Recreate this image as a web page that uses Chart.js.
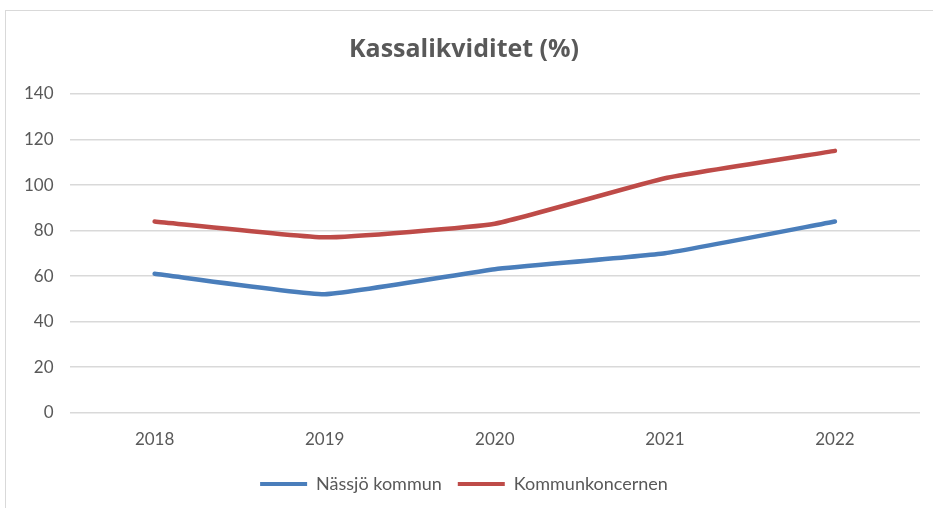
<!DOCTYPE html>
<html>
<head>
<meta charset="utf-8">
<script src="https://cdn.jsdelivr.net/npm/chart.js@4.4.1/dist/chart.umd.min.js"></script>
<style>
  html, body { margin: 0; padding: 0; background: #fff; }
  #wrap { position: relative; width: 933px; height: 508px; overflow: hidden; }
  #frame { position: absolute; left: 5px; top: 10px; width: 1000px; height: 600px; border: 1px solid #d9d9d9; }
  #myChart { position: absolute; left: 0; top: 0; }
</style>
</head>
<body>
<div id="wrap">
  <div id="frame"></div>
  <canvas id="myChart" width="933" height="508"></canvas>
</div>
<script>
// values
var years = ["2018", "2019", "2020", "2021", "2022"];
var nassjo = [61, 52, 63, 70, 84];
var koncern = [84, 77, 83, 103, 115];
var yTicks = [0, 20, 40, 60, 80, 100, 120, 140];

var blue = 'rgb(74, 126, 187)';
var red = 'rgb(190, 75, 72)';
var textColor = '#595959';

var ctx = document.getElementById("myChart").getContext('2d');
var myChart = new Chart(ctx, {
  type: 'line',
  data: {
    labels: years,
    datasets: [{
      label: 'Nässjö kommun',
      data: nassjo,
      borderColor: blue,
      backgroundColor: blue,
      borderWidth: 4.5,
      pointRadius: 0,
      tension: 0.12,
      borderCapStyle: 'round'
    }, {
      label: 'Kommunkoncernen',
      data: koncern,
      borderColor: red,
      backgroundColor: red,
      borderWidth: 4.5,
      pointRadius: 0,
      tension: 0.12,
      borderCapStyle: 'round'
    }]
  },
  options: {
    responsive: false,
    animation: false,
    layout: { padding: { left: 8, right: 13, top: 35, bottom: 5 } },
    plugins: {
      title: {
        display: true,
        text: 'Kassalikviditet (%)',
        color: textColor,
        font: { family: 'Open Sans', size: 25, weight: 'bold' },
        padding: { top: 0, bottom: 29 }
      },
      legend: {
        position: 'bottom',
        labels: {
          color: textColor,
          font: { family: 'Lato', size: 18 },
          boxWidth: 47,
          boxHeight: 4,
          padding: 16,
          generateLabels: function(chart) {
            return Chart.defaults.plugins.legend.labels.generateLabels(chart).map(function(l) {
              l.lineWidth = 0;
              return l;
            });
          }
        }
      },
      tooltip: { enabled: false }
    },
    scales: {
      x: {
        offset: true,
        grid: { display: false },
        border: { display: false },
        ticks: { color: textColor, font: { family: 'Lato', size: 17 }, padding: 9 }
      },
      y: {
        min: 0,
        max: 140,
        afterBuildTicks: function(axis) {
          axis.ticks = yTicks.map(function(v) { return { value: v }; });
        },
        grid: { color: '#d9d9d9', lineWidth: 1.5, drawTicks: false },
        border: { display: false },
        ticks: { color: textColor, font: { family: 'Lato', size: 17 }, padding: 16 }
      }
    }
  }
});
</script>
</body>
</html>
